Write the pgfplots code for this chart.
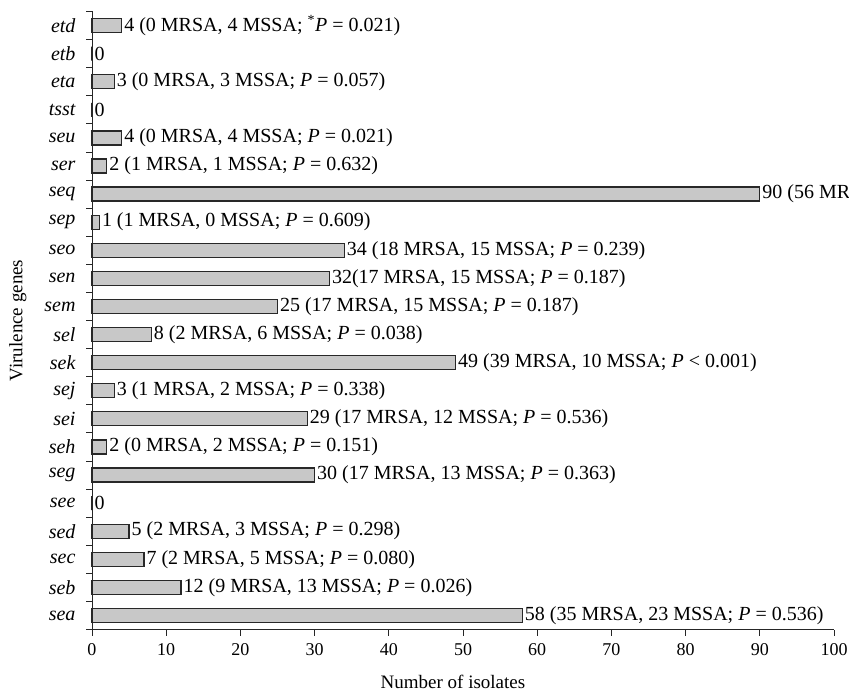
\documentclass[border=0pt]{standalone}
\usepackage{fontspec}
\setmainfont{Liberation Serif}
\usepackage{pgfplots}
\pgfplotsset{compat=1.18}
\definecolor{barfill}{RGB}{200,200,200}
\definecolor{bardraw}{RGB}{40,40,40}
\newcommand{\pv}{\textit{P}}
\newcommand{\barlabel}[1]{\ifcase#1
58 (35 MRSA, 23 MSSA; \pv{} = 0.536)\or
12 (9 MRSA, 13 MSSA; \pv{} = 0.026)\or
7 (2 MRSA, 5 MSSA; \pv{} = 0.080)\or
5 (2 MRSA, 3 MSSA; \pv{} = 0.298)\or
0\or
30 (17 MRSA, 13 MSSA; \pv{} = 0.363)\or
2 (0 MRSA, 2 MSSA; \pv{} = 0.151)\or
29 (17 MRSA, 12 MSSA; \pv{} = 0.536)\or
3 (1 MRSA, 2 MSSA; \pv{} = 0.338)\or
49 (39 MRSA, 10 MSSA; \pv{} < 0.001)\or
8 (2 MRSA, 6 MSSA; \pv{} = 0.038)\or
25 (17 MRSA, 15 MSSA; \pv{} = 0.187)\or
32(17 MRSA, 15 MSSA; \pv{} = 0.187)\or
34 (18 MRSA, 15 MSSA; \pv{} = 0.239)\or
1 (1 MRSA, 0 MSSA; \pv{} = 0.609)\or
90 (56 MRSA, 34 MSSA)\or
2 (1 MRSA, 1 MSSA; \pv{} = 0.632)\or
4 (0 MRSA, 4 MSSA; \pv{} = 0.021)\or
0\or
3 (0 MRSA, 3 MSSA; \pv{} = 0.057)\or
0\or
4 (0 MRSA, 4 MSSA; \textsuperscript{*}\pv{} = 0.021)\fi}
\begin{document}
\begin{tikzpicture}
\useasboundingbox (-92pt,-69.5pt) rectangle (757pt,629.5pt);
\clip (-92pt,-69.5pt) rectangle (757pt,629.5pt);
\begin{axis}[
  at={(0pt,0pt)}, anchor=south west,
  scale only axis, width=742pt, height=618pt,
  xbar, bar width=14pt,
  xmin=0, xmax=100, ymin=-0.5, ymax=21.5,
  axis lines*=left,
  axis line style={line width=0.9pt, draw=black!85},
  clip=false,
  /pgf/number format/assume math mode=true,
  xtick={0,10,...,100},
  tick align=outside,
  major tick length=6pt,
  tick style={line width=0.9pt, draw=black!85},
  xticklabel style={font=\fontsize{18}{20}\selectfont, yshift=-4pt},
  ytick={-0.5,0.5,...,21.5},
  y tick label as interval,
  yticklabels={sea,seb,sec,sed,see,seg,seh,sei,sej,sek,sel,sem,sen,seo,sep,seq,ser,seu,tsst,eta,etb,etd},
  yticklabel style={font=\fontsize{20}{22}\selectfont\itshape, xshift=-7pt},
  xlabel={Number of isolates},
  ylabel={Virulence genes},
  every axis x label/.style={at={(axis description cs:0.4865,0)}, anchor=center, yshift=-52.5pt, font=\fontsize{19}{21}\selectfont},
  every axis y label/.style={at={(axis description cs:-0.1,0.5)}, anchor=center, rotate=90, font=\fontsize{19}{21}\selectfont},
  nodes near coords={\barlabel{\coordindex}},
  every node near coord/.append style={anchor=west, inner sep=2pt, font=\fontsize{20}{22}\selectfont},
]
\addplot[fill=barfill, draw=bardraw, line width=1.2pt] coordinates {
(58,0) (12,1) (7,2) (5,3) (0,4) (30,5) (2,6) (29,7) (3,8) (49,9) (8,10)
(25,11) (32,12) (34,13) (1,14) (90,15) (2,16) (4,17) (0,18) (3,19) (0,20) (4,21)
};
\end{axis}
\end{tikzpicture}
\end{document}
